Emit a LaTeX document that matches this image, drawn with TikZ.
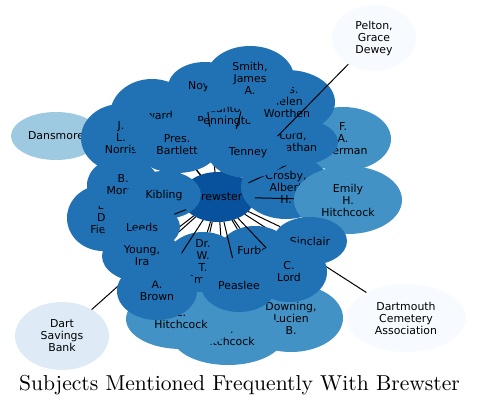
\documentclass[tikz,border=0pt]{standalone}
\usepackage{fontspec}
\newfontfamily\labelfont{DejaVu Sans}
\newfontfamily\titlefont{lmroman10-regular}[Extension=.otf]
\usetikzlibrary{shapes.geometric,calc}

\definecolor{blue0}{HTML}{F7FBFF}
\definecolor{blue1}{HTML}{DEEBF7}
\definecolor{blue3}{HTML}{9ECAE1}
\definecolor{blue5}{HTML}{4292C6}
\definecolor{blue6}{HTML}{2171B5}
\definecolor{blue7}{HTML}{08519C}

% filled bubble over a named spot: name, colour, label
\newcommand\bubble[3]{%
  \fill[#2] let \p1=(#1.east), \p2=(#1.north), \p3=(#1.center) in
    (\p3) ellipse [x radius=\x1-\x3, y radius=\y2-\y3];
  \node[lbl] (#1-t) at (#1.center) {#3};}

\begin{document}
\begin{tikzpicture}[x=1pt, y=-1pt,
    spot/.style 2 args={ellipse, minimum width=2*#1, minimum height=2*#2, inner sep=0pt, outer sep=0pt},
    lbl/.style={font=\labelfont\fontsize{10.9}{12}\selectfont, align=center, inner sep=0pt},
    link/.style={line width=1pt}
]
\useasboundingbox (0,0) rectangle (479,406);

% Spots (shapes only)
\foreach \n/\x/\y/\a/\b in {
    brewster/218/197/37/25, pelton/374/38/42/33, dansmore/56/136/45/24,
    dart/62/336/47/34, cemetery/406/318/60/34, sherman/343/139/48/32,
    emily/348/200/54/34, downing/291/318/52/34, chitch/228/336/56/29,
    ehitch/181/319/55/30, noyes/205/87/37/25, smith/250/78/44/32,
    worthen/287/102/48/32, howard/152/115/42/36, penn/228/116/38/26,
    norris/121/138/40/34, bartlett/177/145/43/28, lord/293/142/45/24,
    tenney/248/153/40/25, morse/123/185/36/28, kibling/164/195/37/24,
    crosby/286/187/45/32, field/103/218/36/33, leeds/142/227/38/24,
    young/142/256/40/26, drsmith/203/262/38/30, furber/255/250/35/24,
    sinclair/310/241/37/24, clord/289/272/38/30, peaslee/239/285/38/27,
    abrown/157/291/40/29}
  \node[spot={\a}{\b}] (\n) at (\x,\y) {};

% Back row
\bubble{dansmore}{blue3}{Dansmore}
\bubble{dart}{blue1}{Dart\\Savings\\Bank}
\bubble{pelton}{blue0}{Pelton,\\Grace\\Dewey}
\bubble{cemetery}{blue0}{Dartmouth\\Cemetery\\Association}
\bubble{downing}{blue5}{Downing,\\Lucien\\B.}
\bubble{chitch}{blue5}{C.\\Hitchcock}
\bubble{ehitch}{blue5}{E.\\Hitchcock}
\bubble{sherman}{blue5}{F.\\A.\\Sherman}
\bubble{howard}{blue6}{Howard}
\bubble{penn}{blue6}{Canton\\Pennington}
\bubble{field}{blue6}{E.\\D.\\Field}
\bubble{brewster}{blue7}{Brewster}

% Hidden links
\foreach \t in {dansmore, dart, cemetery, downing, chitch, ehitch, drsmith, furber,
    howard, norris, morse, kibling, field, bartlett, lord, tenney, worthen, crosby}
  \draw[link] (brewster) -- (\t);

% Middle row
\bubble{norris}{blue6}{J.\\L.\\Norris}
\bubble{morse}{blue6}{B.\\Morse}
\bubble{kibling}{blue6}{Kibling}
\bubble{crosby}{blue6}{Crosby,\\Albert\\H.}
\bubble{drsmith}{blue6}{Dr.\\W.\\T.\\Smith}
\bubble{furber}{blue6}{Furber}

% Links seen over the middle row
\foreach \t in {sherman, emily, leeds, young, abrown, peaslee, clord, sinclair, noyes, smith, penn}
  \draw[link] (brewster) -- (\t);

\bubble{emily}{blue5}{Emily\\H.\\Hitchcock}
\bubble{sinclair}{blue6}{Sinclair}
\bubble{lord}{blue6}{Lord,\\Jonathan}
\bubble{worthen}{blue6}{Mrs.\\Helen\\Worthen}
\draw[link] (brewster) -- (pelton);

% Front row
\bubble{noyes}{blue6}{Noyes}
\bubble{smith}{blue6}{Smith,\\James\\A.}
\bubble{bartlett}{blue6}{Pres.\\Bartlett}
\bubble{tenney}{blue6}{Tenney}
\bubble{leeds}{blue6}{Leeds}
\bubble{abrown}{blue6}{A.\\Brown}
\bubble{young}{blue6}{Young,\\Ira}
\bubble{clord}{blue6}{C.\\Lord}
\bubble{peaslee}{blue6}{Peaslee}

% Title
\node[font=\titlefont\fontsize{21.6}{24}\selectfont, anchor=base] (title) at (239.5,390) {Subjects Mentioned Frequently With Brewster};
\end{tikzpicture}
\end{document}
